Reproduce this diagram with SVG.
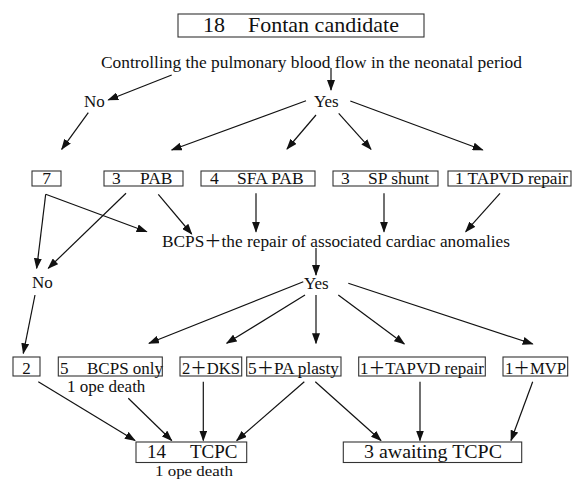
<svg xmlns="http://www.w3.org/2000/svg" width="576" height="479" viewBox="0 0 576 479">
<defs>
<style>
text{font-family:"Liberation Serif","Noto Sans CJK JP",serif;fill:#111}
.t17{font-size:17px}
.t18{font-size:17.5px}
.t20{font-size:19px}
.box{fill:#fff;stroke:#333;stroke-width:1.1}
.ar{stroke:#111;stroke-width:1.2;fill:none;marker-end:url(#ah)}
</style>
<marker id="ah" markerUnits="userSpaceOnUse" markerWidth="11" markerHeight="8" refX="10" refY="4" orient="auto">
<path d="M0,0 L11,4 L0,8 z" fill="#111"/>
</marker>
</defs>
<rect width="576" height="479" fill="#fff"/>

<g id="connectors">
<line class="ar" x1="331" y1="68" x2="331" y2="90"/>
<line class="ar" x1="171.7" y1="75" x2="108.3" y2="100"/>
<line class="ar" x1="88.3" y1="112.7" x2="61.7" y2="149.3"/>
<line class="ar" x1="306" y1="100.7" x2="171.7" y2="150"/>
<line class="ar" x1="316" y1="115" x2="287" y2="149"/>
<line class="ar" x1="338.7" y1="113.3" x2="371" y2="149.3"/>
<line class="ar" x1="350.3" y1="101" x2="482.7" y2="150"/>
<line class="ar" x1="45.7" y1="194.3" x2="36.7" y2="268.3"/>
<line class="ar" x1="45.7" y1="194.3" x2="146.7" y2="231.7"/>
<line class="ar" x1="126" y1="193.3" x2="48.3" y2="268.3"/>
<line class="ar" x1="158.3" y1="194.3" x2="191.7" y2="234"/>
<line class="ar" x1="256" y1="193.3" x2="256" y2="231.7"/>
<line class="ar" x1="384" y1="193.3" x2="384" y2="231.7"/>
<line class="ar" x1="500" y1="193.3" x2="465.7" y2="231.7"/>
<line class="ar" x1="316" y1="248" x2="316" y2="275"/>
<line class="ar" x1="35" y1="295" x2="23.3" y2="353.3"/>
<line class="ar" x1="303.3" y1="281.7" x2="149" y2="343.3"/>
<line class="ar" x1="305" y1="295" x2="226.7" y2="343.3"/>
<line class="ar" x1="316" y1="295" x2="316" y2="343.3"/>
<line class="ar" x1="338.3" y1="295" x2="404.3" y2="344"/>
<line class="ar" x1="348.3" y1="283.3" x2="532.7" y2="344"/>
<line class="ar" x1="38.3" y1="381.7" x2="135" y2="440.5"/>
<line class="ar" x1="128.3" y1="398.3" x2="171.7" y2="440.5"/>
<line class="ar" x1="203.3" y1="381.7" x2="203.3" y2="440.5"/>
<line class="ar" x1="304.3" y1="381.7" x2="236.7" y2="440.5"/>
<line class="ar" x1="315.3" y1="381.7" x2="381" y2="440.5"/>
<line class="ar" x1="420" y1="381.7" x2="420" y2="440.5"/>
<line class="ar" x1="532.7" y1="381.7" x2="511" y2="440.5"/>
</g>

<g id="n-fontan"><rect class="box" x="178" y="14" width="246" height="23"/><text style="font-size:22px" y="32"><tspan x="203">18</tspan><tspan x="248">Fontan candidate</tspan></text></g>
<g id="n-control"><text class="t17" x="101" y="68" textLength="421" lengthAdjust="spacingAndGlyphs">Controlling the pulmonary blood flow in the neonatal period</text></g>
<g id="n-no1"><text class="t17" x="84" y="107">No</text></g>
<g id="n-yes1"><text class="t17" x="314" y="107">Yes</text></g>

<g id="n-7"><rect class="box" x="32" y="171" width="29" height="15"/><text class="t18" x="46.5" y="184" text-anchor="middle">7</text></g>
<g id="n-pab"><rect class="box" x="104" y="171" width="79" height="15"/><text class="t18" y="184"><tspan x="112">3</tspan><tspan x="140">PAB</tspan></text></g>
<g id="n-sfapab"><rect class="box" x="201" y="171" width="114" height="15"/><text class="t18" y="184"><tspan x="210">4</tspan><tspan x="237">SFA PAB</tspan></text></g>
<g id="n-spshunt"><rect class="box" x="333" y="171" width="105" height="15"/><text class="t18" y="184"><tspan x="341">3</tspan><tspan x="368">SP shunt</tspan></text></g>
<g id="n-tapvd1"><rect class="box" x="448" y="171" width="123" height="15"/><text class="t18" x="455" y="184" textLength="113" lengthAdjust="spacingAndGlyphs">1 TAPVD repair</text></g>

<g id="n-bcps"><text class="t17" x="162" y="247" textLength="348" lengthAdjust="spacingAndGlyphs">BCPS＋the repair of associated cardiac anomalies</text></g>
<g id="n-no2"><text class="t17" x="32" y="288">No</text></g>
<g id="n-yes2"><text class="t17" x="304" y="289">Yes</text></g>

<g id="n-2"><rect class="box" x="13" y="357" width="27" height="19"/><text class="t17" x="26.5" y="374" text-anchor="middle">2</text></g>
<g id="n-bcpsonly"><rect class="box" x="58.3" y="357" width="104" height="19"/><text class="t17" y="374"><tspan x="60">5</tspan><tspan x="87">BCPS only</tspan></text><text class="t17" x="67" y="392">1 ope death</text></g>
<g id="n-dks"><rect class="box" x="180" y="357" width="61.7" height="19"/><text class="t17" x="182" y="374" textLength="58" lengthAdjust="spacingAndGlyphs">2＋DKS</text></g>
<g id="n-paplasty"><rect class="box" x="246.7" y="357" width="94.3" height="19"/><text class="t17" x="248" y="374" textLength="91" lengthAdjust="spacingAndGlyphs">5＋PA plasty</text></g>
<g id="n-tapvd2"><rect class="box" x="358.7" y="357" width="126.6" height="19"/><text class="t17" x="360" y="374" textLength="124" lengthAdjust="spacingAndGlyphs">1＋TAPVD repair</text></g>
<g id="n-mvp"><rect class="box" x="503" y="357" width="64.7" height="19"/><text class="t17" x="505" y="374" textLength="61" lengthAdjust="spacingAndGlyphs">1＋MVP</text></g>

<g id="n-tcpc"><rect class="box" x="136" y="442" width="110.7" height="20.5"/><text class="t20" y="458"><tspan x="147">14</tspan><tspan x="190">TCPC</tspan></text><text style="font-size:15.5px" x="155" y="476" textLength="78" lengthAdjust="spacingAndGlyphs">1 ope death</text></g>
<g id="n-awaiting"><rect class="box" x="343.3" y="442" width="178.4" height="20.5"/><text class="t20" x="364" y="458" textLength="138" lengthAdjust="spacingAndGlyphs">3 awaiting TCPC</text></g>
</svg>
